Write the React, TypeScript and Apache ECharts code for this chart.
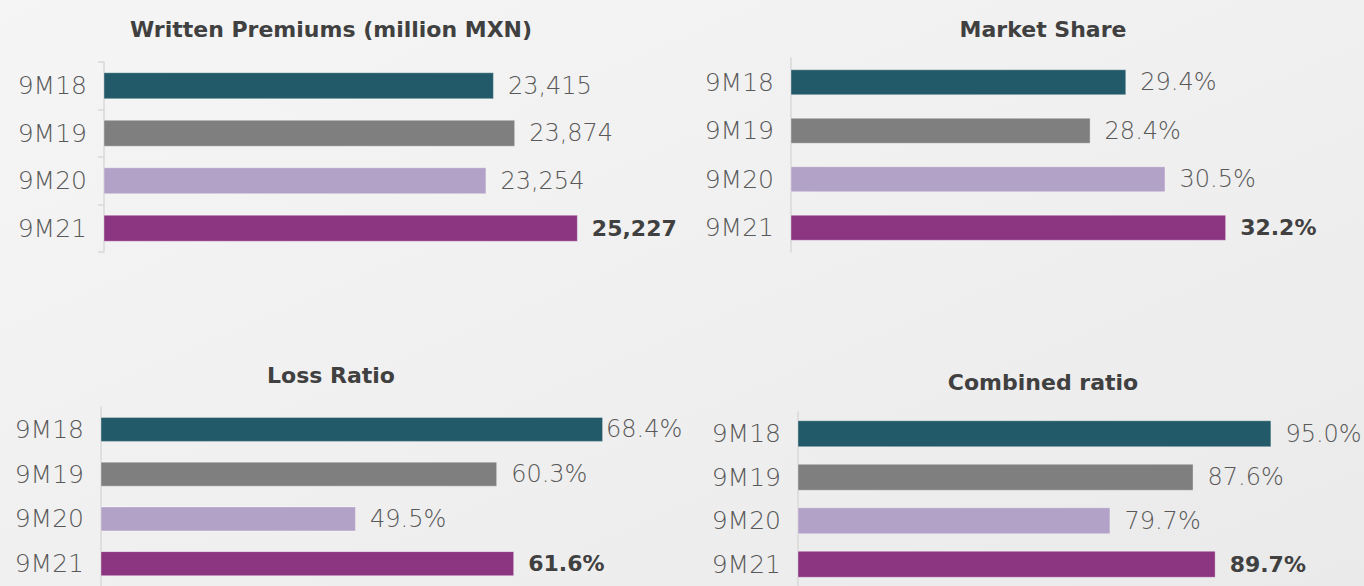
import React, { useEffect, useRef } from "react";
import * as echarts from "echarts";

const categories = ["9M18", "9M19", "9M20", "9M21"];
const premiums = [23415, 23874, 23254, 25227];
const marketShare = [29.4, 28.4, 30.5, 32.2];
const lossRatio = [68.4, 60.3, 49.5, 61.6];
const combinedRatio = [95.0, 87.6, 79.7, 89.7];
const barColors = ["#225a69", "#7f7f7f", "#b3a2c7", "#8c3580"];
const titles = ["Written Premiums (million MXN)", "Market Share", "Loss Ratio", "Combined ratio"];

const panels = [
  { values: premiums, fmt: (v: number) => v.toLocaleString("en-US"), grid: { left: 104, top: 62, width: 556, height: 190 }, min: 15000, max: 27000, barWidth: 27, ticks: true, title: { x: 331, y: 29 }, firstDist: 14 },
  { values: marketShare, fmt: (v: number) => v.toFixed(1) + "%", grid: { left: 791, top: 58, width: 535, height: 194 }, min: 20, max: 35, barWidth: 26, ticks: false, title: { x: 1043, y: 29 }, firstDist: 14 },
  { values: lossRatio, fmt: (v: number) => v.toFixed(1) + "%", grid: { left: 101, top: 407, width: 523, height: 189 }, min: 30, max: 70, barWidth: 25, ticks: false, title: { x: 331, y: 375 }, firstDist: 3 },
  { values: combinedRatio, fmt: (v: number) => v.toFixed(1) + "%", grid: { left: 798, top: 412, width: 526, height: 185 }, min: 50, max: 100, barWidth: 27, ticks: false, title: { x: 1043, y: 382 }, firstDist: 14 },
];

const LABEL_FONT = "DejaVu Sans";

export default function App() {
  const ref = useRef<HTMLDivElement>(null);
  useEffect(() => {
    document.body.style.margin = "0";
    const chart = echarts.init(ref.current!, null, { renderer: "svg" });
    const option: any = {
      animation: false,
      backgroundColor: "#f1f1f1",
      graphic: [
        {
          type: "rect",
          z: -10,
          silent: true,
          shape: { x: 0, y: 0, width: 1364, height: 586 },
          style: {
            fill: new echarts.graphic.LinearGradient(0, 0, 1, 1, [
              { offset: 0, color: "#f5f5f5" },
              { offset: 0.5, color: "#f0f0f0" },
              { offset: 1, color: "#eaeaea" },
            ]),
          },
        },
        ...panels.map((p, i) => ({
          type: "text",
          x: p.title.x,
          y: p.title.y,
          style: {
            text: titles[i],
            textAlign: "center",
            textVerticalAlign: "middle",
            fill: "#404040",
            font: `bold 22px '${LABEL_FONT}'`,
          },
        })),
      ],
      grid: panels.map((p) => ({ ...p.grid, containLabel: false })),
      xAxis: panels.map((p, i) => ({
        type: "value",
        gridIndex: i,
        min: p.min,
        max: p.max,
        show: false,
        splitLine: { show: false },
      })),
      yAxis: panels.map((p, i) => ({
        type: "category",
        gridIndex: i,
        inverse: true,
        data: categories,
        axisLine: { show: true, lineStyle: { color: "#d9d9d9", width: 1.5 } },
        axisTick: { show: p.ticks, length: 6, lineStyle: { color: "#d9d9d9", width: 1.5 } },
        axisLabel: {
          margin: 17,
          fontSize: 25,
          fontFamily: LABEL_FONT,
          fontWeight: 200,
          color: "#595959",
        },
      })),
      series: panels.map((p, i) => ({
        type: "bar",
        xAxisIndex: i,
        yAxisIndex: i,
        barWidth: p.barWidth,
        data: p.values.map((v, j) => {
          const last = j === p.values.length - 1;
          return {
            value: v,
            itemStyle: { color: barColors[j], borderColor: "rgba(255,255,255,0.35)", borderWidth: 1 },
            label: {
              show: true,
              position: "right",
              distance: j === 0 ? p.firstDist : 14,
              formatter: () => p.fmt(v),
              fontFamily: LABEL_FONT,
              fontSize: last ? 22 : 24,
              fontWeight: last ? "bold" : 200,
              color: last ? "#404040" : "#595959",
              padding: [3, 0, 0, 0],
            },
          };
        }),
      })),
    };
    chart.setOption(option);
    return () => chart.dispose();
  }, []);
  return <div ref={ref} style={{ width: 1364, height: 586 }} />;
}
